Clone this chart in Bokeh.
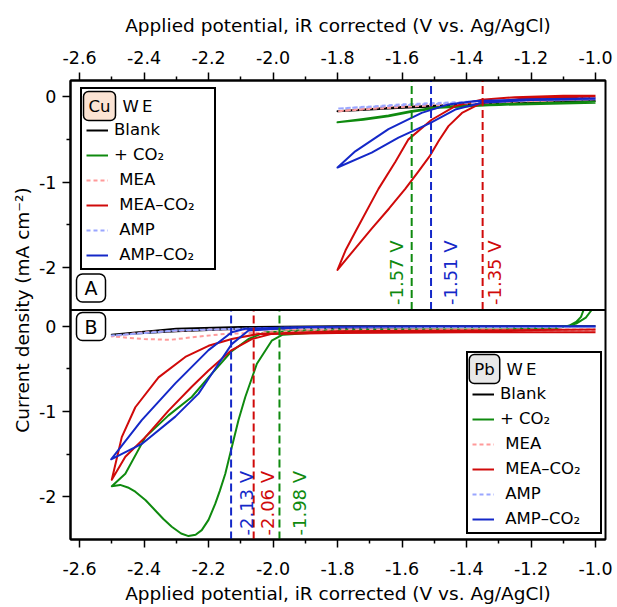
import numpy as np
from bokeh.plotting import figure
from bokeh.models import Range1d, LinearAxis, FixedTicker, Span, Label, Legend, LegendItem
from bokeh.embed import file_html
from bokeh.resources import INLINE

FONT = "DejaVu Sans"

# ---------------- axis data ----------------
x_ticks = [-2.6, -2.4, -2.2, -2.0, -1.8, -1.6, -1.4, -1.2, -1.0]
x_tick_labels = ["-2.6", "-2.4", "-2.2", "-2.0", "-1.8", "-1.6", "-1.4", "-1.2", "-1.0"]
x_minor = [-2.5, -2.3, -2.1, -1.9, -1.7, -1.5, -1.3, -1.1]
y_ticks = [0, -1, -2]
y_tick_labels = ["0", "-1", "-2"]
y_minor = [-0.5, -1.5]
x_lim = (-2.628, -0.969)
panel_lim = (-2.5, 0.19)   # y-limits of each panel

# ---------------- panel A : Cu WE ----------------
cu_blank_x = [-1.0, -1.2, -1.4, -1.6, -1.8, -1.6, -1.4, -1.2, -1.0]
cu_blank_y = [-0.05, -0.07, -0.09, -0.12, -0.17, -0.13, -0.10, -0.07, -0.05]
cu_co2_x = [-1.0, -1.33, -1.485, -1.574, -1.642, -1.72, -1.8, -1.72, -1.642, -1.574, -1.485, -1.33, -1.0]
cu_co2_y = [-0.07, -0.10, -0.13, -0.18, -0.23, -0.27, -0.30, -0.26, -0.22, -0.17, -0.12, -0.09, -0.06]
cu_mea_x = [-1.0, -1.2, -1.4, -1.6, -1.8, -1.6, -1.4, -1.2, -1.0]
cu_mea_y = [-0.03, -0.05, -0.07, -0.10, -0.17, -0.12, -0.08, -0.05, -0.03]
cu_mea_co2_x = [-1.0, -1.228, -1.353, -1.414, -1.456, -1.485, -1.513, -1.55, -1.59, -1.64, -1.694, -1.75, -1.8,
                -1.775, -1.745, -1.673, -1.62, -1.58, -1.508, -1.435, -1.353, -1.25, -1.1, -1.0]
cu_mea_co2_y = [0.0, -0.027, -0.073, -0.19, -0.345, -0.51, -0.69, -0.88, -1.08, -1.31, -1.547, -1.80, -2.03,
                -1.80, -1.585, -1.08, -0.76, -0.50, -0.27, -0.11, -0.035, -0.005, 0.01, 0.01]
cu_amp_x = [-1.0, -1.2, -1.4, -1.6, -1.8, -1.6, -1.4, -1.2, -1.0]
cu_amp_y = [-0.02, -0.04, -0.06, -0.09, -0.14, -0.10, -0.07, -0.04, -0.02]
cu_amp_co2_x = [-1.0, -1.2, -1.353, -1.435, -1.513, -1.611, -1.694, -1.8,
                -1.745, -1.642, -1.539, -1.456, -1.373, -1.2, -1.0]
cu_amp_co2_y = [-0.03, -0.04, -0.07, -0.15, -0.31, -0.48, -0.655, -0.83,
                -0.64, -0.38, -0.19, -0.09, -0.05, -0.03, -0.02]
cu_onset = [-1.57, -1.51, -1.35]
cu_onset_text = ["-1.57 V", "-1.51 V", "-1.35 V"]

# ---------------- panel B : Pb WE ----------------
pb_blank_x = [-1.0, -1.4, -1.8, -2.1, -2.3, -2.5, -2.3, -2.1, -1.8, -1.4, -1.0]
pb_blank_y = [0.0, -0.01, -0.02, -0.03, -0.06, -0.10, -0.03, -0.01, 0.0, 0.0, 0.0]
pb_co2_x = [-1.012, -1.03, -1.06, -1.09, -1.12, -1.2, -1.5, -1.8, -1.97, -2.004, -2.05, -2.086, -2.107, -2.13,
            -2.148, -2.165, -2.179, -2.20, -2.221, -2.24, -2.262, -2.285, -2.314, -2.34, -2.365, -2.395, -2.427,
            -2.45, -2.474, -2.5,
            -2.458, -2.396, -2.324, -2.252, -2.2, -2.13, -2.076, -2.024, -1.9, -1.6, -1.3, -1.12,
            -1.08, -1.06, -1.045, -1.037]
pb_co2_y = [0.19, 0.10, 0.03, 0.0, -0.02, -0.04, -0.05, -0.06, -0.10, -0.17, -0.44, -0.83, -1.10, -1.45,
            -1.73, -1.93, -2.08, -2.27, -2.39, -2.445, -2.46, -2.43, -2.35, -2.26, -2.16, -2.04, -1.94,
            -1.89, -1.86, -1.875,
            -1.73, -1.30, -1.045, -0.83, -0.60, -0.30, -0.15, -0.07, -0.05, -0.04, -0.04, -0.02,
            0.01, 0.05, 0.11, 0.19]
pb_mea_x = [-1.0, -1.4, -1.8, -2.0, -2.15, -2.25, -2.32, -2.4, -2.5, -2.4, -2.2, -2.0, -1.6, -1.0]
pb_mea_y = [-0.05, -0.05, -0.06, -0.07, -0.09, -0.13, -0.16, -0.15, -0.12, -0.07, -0.04, -0.04, -0.04, -0.04]
pb_mea_co2_x = [-1.0, -1.4, -1.8, -2.004, -2.066, -2.128, -2.2, -2.252, -2.324, -2.396, -2.458, -2.5,
                -2.469, -2.427, -2.355, -2.272, -2.2, -2.128, -2.045, -1.8, -1.4, -1.0]
pb_mea_co2_y = [-0.07, -0.07, -0.08, -0.09, -0.15, -0.28, -0.52, -0.71, -0.99, -1.30, -1.53, -1.80,
                -1.30, -0.95, -0.60, -0.36, -0.23, -0.15, -0.09, -0.06, -0.05, -0.04]
pb_amp_x = [-1.0, -1.5, -2.0, -2.3, -2.5, -2.3, -2.0, -1.5, -1.0]
pb_amp_y = [-0.01, -0.01, -0.02, -0.05, -0.11, -0.05, -0.02, -0.01, -0.01]
pb_amp_co2_x = [-1.0, -1.5, -1.9, -2.076, -2.128, -2.169, -2.231, -2.303, -2.407, -2.502,
                -2.407, -2.303, -2.2, -2.128, -2.086, -1.9, -1.5, -1.0]
pb_amp_co2_y = [0.0, 0.0, -0.01, -0.05, -0.21, -0.44, -0.79, -1.06, -1.38, -1.56,
                -1.10, -0.67, -0.28, -0.07, -0.03, -0.01, 0.0, 0.0]
pb_onset = [-2.13, -2.06, -1.98]
pb_onset_text = ["-2.13 V", "-2.06 V", "-1.98 V"]

series_labels = ["Blank", "+ CO\u2082", "\u00a0MEA", "\u00a0MEA\u2013CO\u2082", "\u00a0AMP", "\u00a0AMP\u2013CO\u2082"]

# ---------------- styles ----------------
BLACK, GREEN, RED, BLUE = "#000000", "#0f8a0f", "#d00a0a", "#1428c8"
PINK, LBLUE = "#ff9a9a", "#9aa6ff"

lo, hi = panel_lim
span = hi - lo

p = figure(width=613, height=606, output_backend="svg", toolbar_location=None,
           x_range=Range1d(*x_lim), y_range=Range1d(lo, hi + span),
           min_border_left=70, min_border_right=8, min_border_top=80, min_border_bottom=65)
p.extra_y_ranges = {"top": Range1d(lo - span, hi)}
p.xgrid.visible = False
p.ygrid.visible = False
p.outline_line_color = "black"
p.outline_line_width = 2
p.background_fill_color = "white"
p.border_fill_color = "white"

x_over = {t: l for t, l in zip(x_ticks, x_tick_labels)}
bx = p.xaxis[0]
top_ax = LinearAxis()
p.add_layout(top_ax, "above")
for ax in (bx, top_ax):
    ax.ticker = FixedTicker(ticks=x_ticks, minor_ticks=x_minor)
    ax.major_label_overrides = x_over
    ax.axis_label = "Applied potential, iR corrected (V vs. Ag/AgCl)"

yt = list(y_ticks) + [t + span for t in y_ticks]
ym = list(y_minor) + [t + span for t in y_minor]
y_over = {t: l for t, l in zip(yt, y_tick_labels + y_tick_labels)}
yax = p.yaxis[0]
yax.ticker = FixedTicker(ticks=yt, minor_ticks=ym)
yax.major_label_overrides = y_over
yax.axis_label = "Current density (mA cm\u207b\u00b2)"

for ax in (bx, top_ax, yax):
    ax.axis_line_width = 2
    ax.major_tick_line_width = 1.5
    ax.minor_tick_line_width = 1.5
    ax.major_tick_out = 8
    ax.major_tick_in = 0
    ax.minor_tick_out = 4
    ax.minor_tick_in = 0
    ax.major_label_text_font = FONT
    ax.major_label_text_font_size = "17.5px"
    ax.axis_label_text_font = FONT
    ax.axis_label_text_font_size = "18.5px"
    ax.axis_label_text_font_style = "normal"
    ax.major_label_text_color = "black"
    ax.axis_label_text_color = "black"

top_ax.major_label_standoff = 9
top_ax.axis_label_standoff = 12
bx.major_label_standoff = 14
bx.axis_label_standoff = 5
yax.major_label_standoff = 6
yax.axis_label_standoff = 3

# boundary between the panels
p.add_layout(Span(location=hi, dimension="width", line_color="black", line_width=2))

def draw(xs, ys, color, dash="solid", rng="default"):
    return p.line(xs, ys, line_color=color, line_width=2, line_dash=dash, y_range_name=rng,
                  line_join="round")

# Panel A (top range)
rA = [
    draw(cu_blank_x, cu_blank_y, BLACK, rng="top"),
    draw(cu_co2_x, cu_co2_y, GREEN, rng="top"),
    draw(cu_mea_x, cu_mea_y, PINK, "4 3", rng="top"),
    draw(cu_mea_co2_x, cu_mea_co2_y, RED, rng="top"),
    draw(cu_amp_x, cu_amp_y, LBLUE, "4 3", rng="top"),
    draw(cu_amp_co2_x, cu_amp_co2_y, BLUE, rng="top"),
]
# Panel B (default range)
rB = [
    draw(pb_blank_x, pb_blank_y, BLACK),
    draw(pb_co2_x, pb_co2_y, GREEN),
    draw(pb_mea_x, pb_mea_y, PINK, "4 3"),
    draw(pb_mea_co2_x, pb_mea_co2_y, RED),
    draw(pb_amp_x, pb_amp_y, LBLUE, "4 3"),
    draw(pb_amp_co2_x, pb_amp_co2_y, BLUE),
]

# onset markers
cu_cols = [GREEN, BLUE, RED]
pb_cols = [BLUE, RED, GREEN]
p.segment(x0=cu_onset, x1=cu_onset, y0=[lo] * 3, y1=[hi] * 3, line_color=cu_cols,
          line_width=2, line_dash="8 4", y_range_name="top")
p.segment(x0=pb_onset, x1=pb_onset, y0=[lo] * 3, y1=[hi] * 3, line_color=pb_cols,
          line_width=2, line_dash="8 4")
for v, t, c, off in zip(cu_onset, cu_onset_text, cu_cols, [-15, 19, 12]):
    p.add_layout(Label(x=v, y=lo, y_range_name="top", text=t, angle=np.pi / 2, x_offset=off, y_offset=5,
                       text_align="left", text_baseline="middle", text_color=c,
                       text_font=FONT, text_font_size="18px"))
for v, t, c, off in zip(pb_onset, pb_onset_text, pb_cols, [15, 14, 20]):
    p.add_layout(Label(x=v, y=lo, text=t, angle=np.pi / 2, x_offset=off, y_offset=4,
                       text_align="left", text_baseline="middle", text_color=c,
                       text_font=FONT, text_font_size="18px"))

# legends (transparent background so the WE badges show through)
def make_legend(renderers, loc):
    items = [LegendItem(label=l, renderers=[r]) for l, r in zip(series_labels, renderers)]
    lg = Legend(items=items, location=loc, title="\u00a0", margin=0, padding=4, spacing=6,
                label_height=16, glyph_height=16, glyph_width=22, label_standoff=6, title_standoff=8,
                label_width=96,
                border_line_color="black", border_line_width=2, border_line_alpha=1.0,
                background_fill_alpha=0.0, label_text_font=FONT, label_text_font_size="16.5px",
                label_text_color="black",
                title_text_font=FONT, title_text_font_size="16.5px", title_text_font_style="normal")
    p.add_layout(lg)
    return lg

make_legend(rA, (10, 269))
make_legend(rB, (396, 5))

def badge(text, x, y, fill):
    p.add_layout(Label(x=x, y=y, x_units="screen", y_units="screen", text=text, level="overlay",
                       text_align="center", text_baseline="middle", text_font=FONT,
                       text_font_size="16.5px", text_color="black", background_fill_color=fill,
                       background_fill_alpha=1.0, border_line_color="black", border_line_alpha=1.0,
                       border_line_width=1.5, padding=5, border_radius=5))

def plain(text, x, y, size="16.5px"):
    p.add_layout(Label(x=x, y=y, x_units="screen", y_units="screen", text=text, level="overlay",
                       text_align="left", text_baseline="middle", text_font=FONT, text_font_size=size,
                       text_color="black"))

badge("Cu", 29, 433.5, "#fbe3d3")
plain("W\u2009E", 52, 433.5)
badge("Pb", 414, 170.5, "#e8e8e8")
plain("W\u2009E", 436, 170.5)

for t, y in [("A", 251.5), ("B", 213)]:
    p.add_layout(Label(x=20.5, y=y, x_units="screen", y_units="screen", text=t, level="overlay",
                       text_align="center", text_baseline="middle", text_font=FONT,
                       text_font_size="19px", text_color="black", background_fill_color="white",
                       background_fill_alpha=1.0, border_line_color="black", border_line_alpha=1.0,
                       border_line_width=1.5, padding=(8, 3), border_radius=6))

open("out.html", "w").write(file_html(p, INLINE))
